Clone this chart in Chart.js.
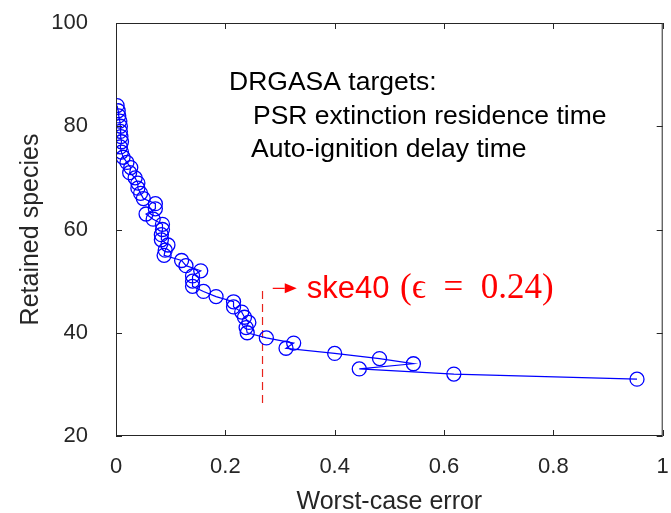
<!DOCTYPE html>
<html>
<head>
<meta charset="utf-8">
<script src="https://cdn.jsdelivr.net/npm/chart.js@4/dist/chart.umd.min.js"></script>
<style>
  html, body { margin: 0; padding: 0; background: #fff; }
  #wrap { width: 671px; height: 513px; }
</style>
</head>
<body>
<div id="wrap"><canvas id="chart"></canvas></div>
<script>
// worst-case error vs retained species
const species = [84, 83, 82, 81, 80, 79, 78, 77, 76, 75, 74, 73, 72, 71, 70, 69, 68, 67, 66, 65,
                 64, 63, 62, 61, 60, 59, 58, 57, 56, 55, 54, 53, 52, 51, 50, 49, 48, 47, 46, 45,
                 44, 43, 42, 41, 40, 39, 38, 37, 36, 35, 34, 33, 32, 31];
const worstErr = [0.002, 0.004, 0.005, 0.007, 0.008, 0.008, 0.009, 0.010, 0.008, 0.010,
                  0.013, 0.020, 0.027, 0.025, 0.035, 0.040, 0.040, 0.045, 0.050, 0.072,
                  0.072, 0.055, 0.068, 0.085, 0.085, 0.083, 0.083, 0.095, 0.090, 0.088,
                  0.120, 0.128, 0.155, 0.140, 0.140, 0.140, 0.160, 0.183, 0.215, 0.215,
                  0.230, 0.235, 0.243, 0.238, 0.240, 0.275, 0.325, 0.311, 0.400, 0.482,
                  0.544, 0.445, 0.618, 0.953];
// dashed marker line for the chosen mechanism
const cutX = [0.268, 0.268];
const cutY = [48.1, 25.7];
const xTicks = [0, 0.2, 0.4, 0.6, 0.8, 1];
const yTicks = [20, 40, 60, 80, 100];

const axisColor = '#262626';

const points = species.map((s, i) => ({ x: worstErr[i], y: s }));
const cutLine = cutX.map((x, i) => ({ x: x, y: cutY[i] }));

// box + inward ticks like the original figure
const boxPlugin = {
    id: 'box',
    afterDatasetsDraw(chart) {
        const { ctx, chartArea: a, scales } = chart;
        ctx.save();
        ctx.strokeStyle = axisColor;
        ctx.lineWidth = 1;
        ctx.strokeRect(a.left + 0.5, a.top + 0.5, a.right - a.left - 1, a.bottom - a.top - 1);
        ctx.beginPath();
        xTicks.forEach(v => {
            const px = Math.round(scales.x.getPixelForValue(v)) + 0.5;
            ctx.moveTo(px, a.bottom); ctx.lineTo(px, a.bottom - 6);
            ctx.moveTo(px, a.top); ctx.lineTo(px, a.top + 6);
        });
        yTicks.forEach(v => {
            const py = Math.round(scales.y.getPixelForValue(v)) + 0.5;
            ctx.moveTo(a.left, py); ctx.lineTo(a.left + 6, py);
            ctx.moveTo(a.right, py); ctx.lineTo(a.right - 6, py);
        });
        ctx.stroke();

        // note about the reduction targets
        ctx.fillStyle = '#000';
        ctx.font = '26.5px "Liberation Sans", Arial, sans-serif';
        ctx.textBaseline = 'alphabetic';
        ctx.fillText('DRGASA targets:', 229, 90);
        ctx.fillText('PSR extinction residence time', 253, 124);
        ctx.fillText('Auto-ignition delay time', 251, 157);

        // red arrow + label
        const ax = scales.x.getPixelForValue(0.305);
        const ay = scales.y.getPixelForValue(48.6);
        ctx.strokeStyle = '#ff0000';
        ctx.fillStyle = '#ff0000';
        ctx.lineWidth = 1.2;
        ctx.beginPath();
        ctx.moveTo(ax - 10, ay); ctx.lineTo(ax + 2, ay);
        ctx.stroke();
        ctx.beginPath();
        ctx.moveTo(ax + 2, ay - 5); ctx.lineTo(ax + 14, ay); ctx.lineTo(ax + 2, ay + 5);
        ctx.closePath();
        ctx.fill();
        ctx.font = '31px "Liberation Sans", Arial, sans-serif';
        ctx.fillText('ske40', ax + 24, ay + 10);
        const w = ctx.measureText('ske40 ').width;
        ctx.font = '35px "Liberation Serif", "DejaVu Serif", serif';
        ctx.fillText('(\u03f5  =  0.24)', ax + 26 + w, ay + 10);
        ctx.restore();
    }
};

new Chart(document.getElementById('chart'), {
    type: 'scatter',
    data: {
        datasets: [{
            label: 'species',
            data: points,
            showLine: true,
            borderColor: '#0000ff',
            borderWidth: 1.2,
            backgroundColor: 'rgba(0,0,0,0)',
            pointBorderColor: '#0000ff',
            pointBorderWidth: 1.3,
            pointRadius: 7,
            pointHoverRadius: 7,
            tension: 0
        }, {
            label: 'cut',
            data: cutLine,
            showLine: true,
            borderColor: '#e8231c',
            borderWidth: 1.2,
            borderDash: [8, 5],
            pointRadius: 0,
            tension: 0
        }]
    },
    options: {
        responsive: true,
        maintainAspectRatio: false,
        animation: false,
        layout: { padding: { top: 23, right: 0, left: 0, bottom: 0 } },
        plugins: {
            legend: { display: false },
            tooltip: { enabled: false }
        },
        scales: {
            x: {
                type: 'linear',
                min: 0,
                max: 1,
                afterFit: s => { s.height = 77; s.paddingLeft = 0; s.paddingRight = 0; },
                afterBuildTicks: s => { s.ticks = xTicks.map(v => ({ value: v })); },
                grid: { display: false },
                border: { display: false },
                ticks: {
                    color: axisColor,
                    padding: 10,
                    maxRotation: 0,
                    font: { family: '"Liberation Sans", Arial, sans-serif', size: 22 },
                    callback: v => String(v)
                },
                title: {
                    display: true,
                    text: 'Worst-case error',
                    color: axisColor,
                    padding: { top: 0, bottom: -4 },
                    font: { family: '"Liberation Sans", Arial, sans-serif', size: 25 }
                }
            },
            y: {
                type: 'linear',
                min: 20,
                max: 100,
                afterFit: s => { s.width = 116; s.paddingTop = 0; s.paddingBottom = 0; },
                afterBuildTicks: s => { s.ticks = yTicks.map(v => ({ value: v })); },
                grid: { display: false },
                border: { display: false },
                ticks: {
                    color: axisColor,
                    padding: 20,
                    font: { family: '"Liberation Sans", Arial, sans-serif', size: 22 }
                },
                title: {
                    display: true,
                    text: 'Retained species',
                    color: axisColor,
                    padding: { top: 16, bottom: 0 },
                    font: { family: '"Liberation Sans", Arial, sans-serif', size: 25 }
                }
            }
        }
    },
    plugins: [boxPlugin]
});
</script>
</body>
</html>
